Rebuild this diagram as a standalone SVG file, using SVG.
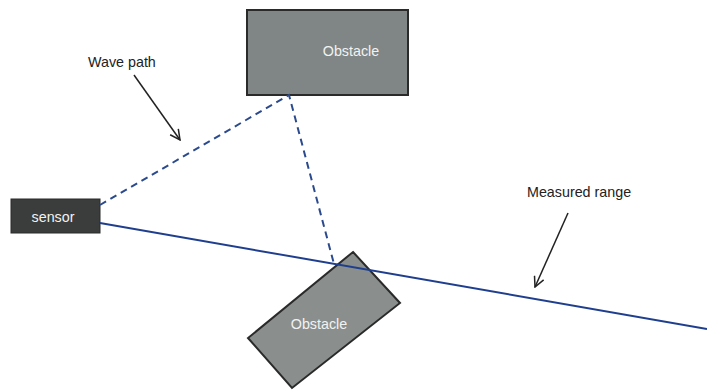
<svg xmlns="http://www.w3.org/2000/svg" width="707" height="390" viewBox="0 0 707 390">
  <defs>
    <style>
      .label { font-family: "Liberation Sans", Arial, sans-serif; font-size: 14.3px; fill: #222; }
      .inner { font-family: "Liberation Sans", Arial, sans-serif; font-size: 14.3px; fill: #f2f2f2; text-anchor: middle; }
      .obstacle { fill: #7f8685; stroke: #2a2a2a; stroke-width: 2; }
      .wave { fill: none; stroke: #2b4a8e; stroke-width: 2; stroke-dasharray: 7 5; }
      .range { fill: none; stroke: #1f3f8e; stroke-width: 2; }
      .pointer { fill: none; stroke: #222; stroke-width: 1.5; marker-end: url(#open); }
    </style>
    <marker id="open" viewBox="0 0 12 12" refX="11" refY="6" markerWidth="12" markerHeight="12" markerUnits="userSpaceOnUse" orient="auto">
      <path d="M1,1 L11,6 L1,11" fill="none" stroke="#222" stroke-width="1.5"/>
    </marker>
  </defs>
  <rect width="707" height="390" fill="#ffffff"/>

  <g id="obstacle-top">
    <rect class="obstacle" x="247" y="10" width="161" height="85"/>
    <text class="inner" x="351" y="56">Obstacle</text>
  </g>

  <g id="sensor">
    <rect x="11" y="199" width="89" height="34" fill="#3b3d3c" stroke="#2a2a2a" stroke-width="1"/>
    <text class="inner" x="53" y="222">sensor</text>
  </g>

  <g id="obstacle-tilted">
    <polygon class="obstacle" points="353,252 400,303 292,388 248,338" style="fill:#8a8f8e"/>
    <text class="inner" x="319" y="329">Obstacle</text>
  </g>

  <!-- lines drawn last so the range line crosses over the tilted block -->
  <g id="connectors">
    <path class="wave" d="M100,205 L289,95 L334,264"/>
    <path class="range" d="M100,223 L707,329"/>
    <path class="pointer" d="M134,75 L180,140"/>
    <path class="pointer" d="M568,213 L535,287"/>
  </g>

  <g id="labels">
    <text class="label" x="88" y="67">Wave path</text>
    <text class="label" x="527" y="197">Measured range</text>
  </g>
</svg>
